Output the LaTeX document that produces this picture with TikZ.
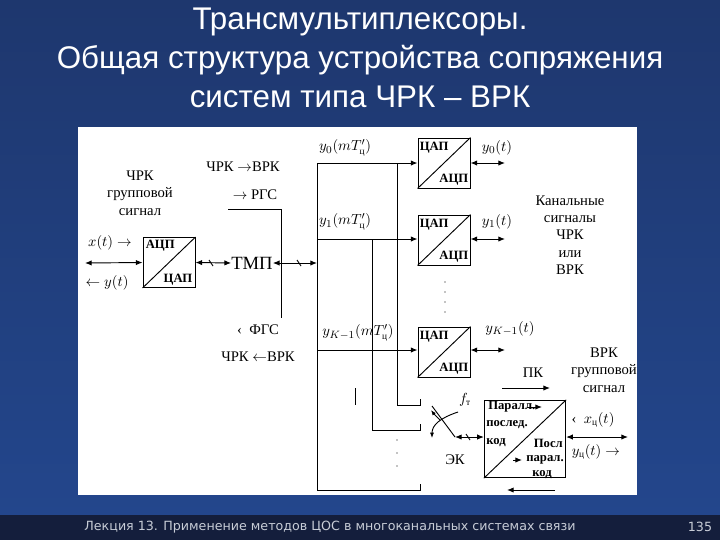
\documentclass[tikz,border=0pt]{standalone}
\usepackage{fontspec}
\setmainfont{Liberation Serif}
\newfontfamily\titlefont{Liberation Sans}
\newfontfamily\footfont{DejaVu Sans}
\usetikzlibrary{arrows.meta,shadings}
\definecolor{bgtop}{RGB}{30,55,110}
\definecolor{bgbot}{RGB}{35,70,140}
\definecolor{footbg}{RGB}{20,30,60}
\definecolor{foottx}{RGB}{200,205,215}
\newcommand{\ts}[1]{\mbox{\scriptsize #1}}
\begin{document}
\begin{tikzpicture}[x=0.75pt,y=-0.75pt,
  ln/.style={line width=0.7pt},
  arr/.style={ln,-{Latex[length=5pt,width=4pt]}},
  darr/.style={ln,{Latex[length=5pt,width=4pt]}-{Latex[length=5pt,width=4pt]}},
  txt/.style={font=\fontsize{11}{13}\selectfont, inner sep=0pt},
  sm/.style={font=\fontsize{9.5}{11}\selectfont\bfseries, inner sep=0pt},
  conv/.style={draw,ln,minimum width=39pt,minimum height=37.5pt,inner sep=0pt}]
\useasboundingbox (0,0) rectangle (720,540);
\shade[top color=bgtop, bottom color=bgbot] (0,0) rectangle (720,515);
\fill[footbg] (0,515) rectangle (720,540);
\node[text=white,font=\titlefont\fontsize{23.5}{29}\selectfont,align=center] (title) at (360,58) {Трансмультиплексоры.\\Общая структура устройства сопряжения\\систем типа ЧРК – ВРК};
\node[text=foottx,font=\footfont\fontsize{9.5}{11}\selectfont] (foot) at (330,527) {Лекция 13. Применение методов ЦОС в многоканальных системах связи};
\node[text=foottx,font=\footfont\fontsize{9.5}{11}\selectfont] (pg) at (700,527) {135};
\fill[white] (78,127) rectangle (637,495);
% left
\node[txt,align=center] (grp) at (140,193) {ЧРК\\групповой\\сигнал};
\node[txt] (xt) at (110,243) {$x(t)\rightarrow$};
\node[txt] (yt) at (107,283) {$\leftarrow y(t)$};
\node[conv,minimum width=39pt] (adc) at (169,262.5) {};
\draw[ln] (adc.south west) -- (adc.north east);
\node[sm,anchor=north west] at ([shift={(3,3)}]adc.north west) {АЦП};
\node[sm,anchor=south east] at ([shift={(-3,-3)}]adc.south east) {ЦАП};
\coordinate (lin) at (85,263);
\draw[darr] (lin) -- (adc.west);
\node[txt,font=\fontsize{14}{16}\selectfont] (tmp) at (252,263) {ТМП};
\draw[darr] (adc.east) -- (tmp.west);
\draw[ln] (209,260) -- (213,266);
\coordinate (bus) at (317,263);
\draw[darr] (tmp.east) -- (bus);
\draw[ln] (297,260) -- (301,266);
\coordinate (r1) at (228,209); \coordinate (r2) at (281,209); \coordinate (r3) at (281,318);
\draw[ln] (r1) -- (r2) -- (r3);
\node[txt] (t1) at (243,167) {ЧРК $\rightarrow$ВРК};
\node[txt] (t2) at (255,195) {$\rightarrow$ РГС};
\node[txt] (t3) at (258,330) {‹\ \ ФГС};
\node[txt] (t4) at (258,357) {ЧРК $\leftarrow$ВРК};
% converters
\node[conv] (c0) at (444,163) {};
\node[conv] (c1) at (444,240) {};
\node[conv] (c2) at (444,352) {};
\foreach \c in {c0,c1,c2}{
  \draw[ln] (\c.south west) -- (\c.north east);
  \node[sm,anchor=north west] at ([shift={(2,4)}]\c.north west) {ЦАП};
  \node[sm,anchor=south east] at ([shift={(-2,-3)}]\c.south east) {АЦП};
}
\coordinate (b0) at (317,163); \coordinate (b1) at (317,239); \coordinate (b2) at (317,350); \coordinate (bb) at (317,490);
\draw[ln] (b0) -- (bb);
\draw[arr] (b0) -- (c0.west |- b0);
\draw[arr] (b1) -- (c1.west |- b1);
\draw[arr] (b2) -- (c2.west |- b2);
\node[txt] at (345,148) {$y_0(mT'_{\ts{ц}})$};
\node[txt] at (345,222) {$y_1(mT'_{\ts{ц}})$};
\node[txt] at (358,333) {$y_{K-1}(mT'_{\ts{ц}})$};
\coordinate (o0) at (505,163); \coordinate (o1) at (505,239); \coordinate (o2) at (505,350);
\draw[darr] (c0.east |- o0) -- (o0);
\draw[darr] (c1.east |- o1) -- (o1);
\draw[darr] (c2.east |- o2) -- (o2);
\node[txt] at (497,148) {$y_0(t)$};
\node[txt] at (497,222) {$y_1(t)$};
\node[txt] at (510,329) {$y_{K-1}(t)$};
\foreach \y in {282,292,302,312} \fill (445,\y) circle (0.6);
\node[txt,align=center] (kan) at (570,235) {Канальные\\сигналы\\ЧРК\\или\\ВРК};
\node[txt,align=center] (vrk) at (604,370) {ВРК\\групповой\\сигнал};
% switch lines
\draw[ln] (397,163) -- (397,405) -- (420,405) -- (420,399);
\draw[ln] (372,239) -- (372,430) -- (420,430) -- (420,424);
\draw[ln] (bb) -- (420,490) -- (420,484);
\draw[ln] (355,388) -- (355,405);
\foreach \y in {440,453,466} \fill (397,\y) circle (0.6);
% PK
\node[txt] (pk) at (533,373) {ПК};
\draw[arr] (502,388) -- (550,388);
\node[draw,ln,minimum width=61pt,minimum height=58pt,inner sep=0pt] (pb) at (525,439) {};
\draw[ln] (pb.south west) -- (pb.north east);
\node[sm,anchor=west] at (488,407) {Паралл.};
\draw[arr] (527,407) -- (542,407);
\node[sm,anchor=west] at (486,425) {послед.};
\node[sm,anchor=west] at (486,443) {код};
\node[sm,anchor=east] at (563,443) {Посл};
\draw[arr] (513,460) -- (522,460);
\node[sm,anchor=east] at (564,460) {парал.};
\node[sm] at (542,475) {код};
\coordinate (sw1) at (432,406); \coordinate (sw2) at (455,437);
\draw[ln] (sw1) -- (sw2);
\draw[darr] (sw2) -- (pb.west |- sw2);
\draw[ln] (466,434) -- (470,440);
\draw[ln,-{Latex[length=4pt,width=3pt]}] (458,412) .. controls (440,418) and (432,425) .. (432,438);
\draw[ln,-{Latex[length=4pt,width=3pt]}] (440,420) .. controls (436,416) and (434,414) .. (431,410);
\node[txt] at (465,400) {$f_{\ts{т}}$};
\node[txt] (ek) at (455,460) {ЭК};
\coordinate (pr) at (628,437);
\draw[darr] (pb.east |- pr) -- (pr);
\node[txt] at (593,420) {‹\ \ $x_{\ts{ц}}(t)$};
\node[txt] at (596,452) {$y_{\ts{ц}}(t)\rightarrow$};
\draw[arr] (555,490) -- (507,490);
\end{tikzpicture}
\end{document}
